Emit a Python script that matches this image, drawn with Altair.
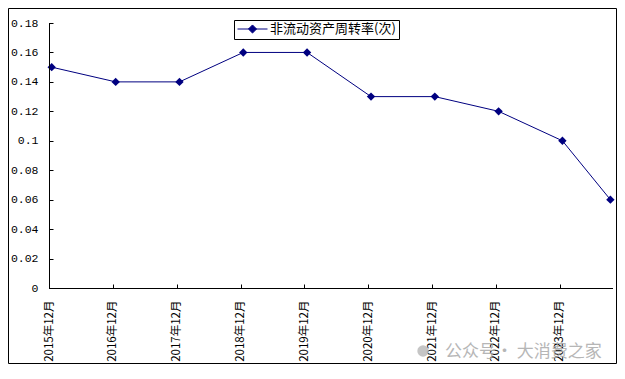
import altair as alt
import pandas as pd

# ---- data ----
months = ["2015-12", "2016-12", "2017-12", "2018-12", "2019-12",
          "2020-12", "2021-12", "2022-12", "2023-12", "2024-09"]
values = [0.15, 0.14, 0.14, 0.16, 0.16, 0.13, 0.13, 0.12, 0.10, 0.06]
series_name = "非流动资产周转率(次)"
y_ticks = [0, 0.02, 0.04, 0.06, 0.08, 0.1, 0.12, 0.14, 0.16, 0.18]
tick_years = [2015, 2016, 2017, 2018, 2019, 2020, 2021, 2022, 2023]
watermark = "公众号· 大消费之家"

df = pd.DataFrame({"month": months, "value": values, "series": [series_name] * len(months)})

W, H = 564, 265
NAVY = "#000080"
CJK = "Noto Sans CJK SC"

x_enc = alt.X(
    "month:T",
    timeUnit="utcyearmonth",
    bandPosition=0.5,
    scale=alt.Scale(
        type="utc",
        domain=[alt.DateTime(year=2015, month=12, date=1, utc=True),
                alt.DateTime(year=2024, month=10, date=1, utc=True)],
    ),
    axis=alt.Axis(
        values=[alt.DateTime(year=y, month=12, date=1, utc=True) for y in tick_years],
        format="%Y年%m月",
        labelAngle=270,
        offset=-4,
        tickSize=4,
        domain=False,
        grid=False,
        labelPadding=12,
        labelFont=CJK,
        labelFontSize=11.5,
        labelColor="black",
        tickColor="black",
    ),
    title=None,
)

y_enc = alt.Y(
    "value:Q",
    scale=alt.Scale(domain=[0, 0.18], nice=False, zero=True),
    axis=alt.Axis(
        values=y_ticks,
        format=".2~f",
        offset=-4,
        tickSize=4,
        domain=False,
        grid=False,
        labelPadding=11,
        labelFont="Liberation Mono",
        labelFontSize=11.5,
        labelColor="black",
        tickColor="black",
    ),
    title=None,
)

legend_symbol = "M-1,0L1,0M0,-0.27L0.27,0L0,0.27L-0.27,0Z"

line = alt.Chart(df).mark_line(strokeWidth=1).encode(
    x=x_enc,
    y=y_enc,
    color=alt.Color(
        "series:N",
        scale=alt.Scale(range=[NAVY]),
        legend=alt.Legend(
            title=None,
            orient="none",
            legendX=185,
            legendY=-3,
            symbolType=legend_symbol,
            symbolSize=900,
            symbolStrokeWidth=1,
            symbolFillColor=NAVY,
            symbolStrokeColor=NAVY,
            clipHeight=12,
            labelFont=CJK,
            labelFontSize=13,
            labelColor="black",
            labelOffset=2,
            labelExpr="datum.label + '\u00a0\u00a0\u00a0'",
            padding=3,
            strokeColor="black",
            fillColor="white",
        ),
    ),
)

points = alt.Chart(df).mark_point(shape="diamond", filled=True, size=70, color=NAVY, opacity=1).encode(
    x=x_enc, y=y_enc
)

one = pd.DataFrame({"k": [0]})

y_axis_line = alt.Chart(one).mark_rule(color="black", strokeWidth=1).encode(
    x=alt.value(0.5), y=alt.value(0), y2=alt.value(H)
)
x_axis_line = alt.Chart(one).mark_rule(color="black", strokeWidth=1).encode(
    x=alt.value(0), x2=alt.value(W), y=alt.value(H + 0.5)
)

border = alt.Chart(one).mark_rect(fill="transparent", stroke="black", strokeWidth=1).encode(
    x=alt.value(-40.5), x2=alt.value(567.5), y=alt.value(-14.5), y2=alt.value(340.5)
)

wm_icon = alt.Chart(one).mark_point(shape="circle", filled=True, size=130, color="#bbbbbb", opacity=0.85).encode(
    x=alt.value(374), y=alt.value(328)
)
wm_text = alt.Chart(one).mark_text(
    text=watermark, align="left", baseline="middle", font=CJK, fontSize=17,
    color="#aaaaaa", opacity=0.85
).encode(x=alt.value(396), y=alt.value(329))

chart = alt.layer(
    border, line, points, y_axis_line, x_axis_line, wm_icon, wm_text
).properties(
    width=W,
    height=H,
    padding={"left": 41, "top": 15, "right": 4, "bottom": 76},
    autosize=alt.AutoSizeParams(type="none"),
    background="white",
).configure_view(stroke=None)

chart.save("out.html", embed_options={"renderer": "svg", "actions": False})
